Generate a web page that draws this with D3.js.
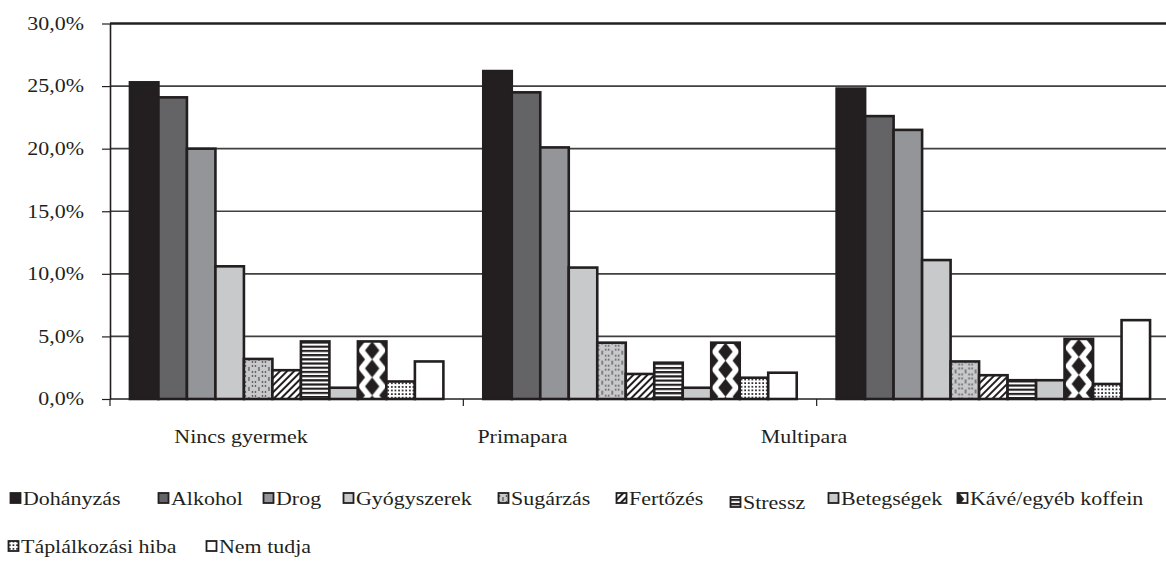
<!DOCTYPE html>
<html>
<head>
<meta charset="utf-8">
<script src="https://cdn.jsdelivr.net/npm/d3@7"></script>
<style>
  body { margin: 0; background: #fff; }
  text { font-family: "Liberation Serif", "Times New Roman", serif; fill: #231f20; }
</style>
</head>
<body>
<div id="chart"></div>
<script>
// data
const categories = ["Nincs gyermek", "Primapara", "Multipara"];
const seriesNames = ["Dohányzás", "Alkohol", "Drog", "Gyógyszerek", "Sugárzás", "Fertőzés",
  "Stressz", "Betegségek", "Kávé/egyéb koffein", "Táplálkozási hiba", "Nem tudja"];
const nincsGyermekValues = [25.3, 24.1, 20.0, 10.6, 3.2, 2.3, 4.6, 0.9, 4.6, 1.4, 3.0];
const primaparaValues    = [26.2, 24.5, 20.1, 10.5, 4.5, 2.0, 2.9, 0.9, 4.5, 1.7, 2.1];
const multiparaValues    = [24.8, 22.6, 21.5, 11.1, 3.0, 1.9, 1.5, 1.5, 4.8, 1.2, 6.3];
const yTicks = [0, 5, 10, 15, 20, 25, 30];

// styles
const seriesFills = ["#231f20", "#646366", "#939598", "#c8c9cb", "url(#pSug)", "url(#pFert)",
  "url(#pStr)", "#c8c9cb", "url(#pKave)", "url(#pTap)", "#ffffff"];
const ink = "#231f20";
const stretch = 1.22;   // text in the picture is wider than it is tall
const fontSize = 18;

// legend layout (marker x, row)
const legendLayout = [[10, 0], [158, 0], [263, 0], [343, 0], [498, 0], [616, 0], [730, 0], [828, 0], [957, 0],
  [8, 1], [206, 1]];
const legendRowY = [499, 547];

const width = 1166, height = 566;
const plot = { left: 110, right: 1170, top: 23.5, bottom: 399 };

const rows = categories.map((c, i) => ({
  cat: c,
  values: [nincsGyermekValues, primaparaValues, multiparaValues][i]
}));

const svg = d3.select("#chart").append("svg")
  .attr("width", width)
  .attr("height", height);

svg.append("rect").attr("width", width).attr("height", height).attr("fill", "#fff");

const x0 = d3.scaleBand()
  .domain(categories)
  .range([plot.left, plot.right]);

const x1 = d3.scaleBand()
  .domain(seriesNames)
  .range([0, x0.bandwidth()])
  .paddingOuter(0.7);

const y = d3.scaleLinear()
  .domain([0, 30])
  .range([plot.bottom, plot.top]);

const bw = x1.bandwidth();

// patterns
const defs = svg.append("defs");

const sug = defs.append("pattern").attr("id", "pSug")
  .attr("patternUnits", "userSpaceOnUse").attr("width", 10).attr("height", 10);
sug.append("rect").attr("width", 10).attr("height", 10).attr("fill", "#c8c9cb");
[[5, 1], [8.5, 3], [8.5, 7], [5, 9], [1.5, 7], [1.5, 3]].forEach(p => {
  sug.append("circle").attr("cx", p[0]).attr("cy", p[1]).attr("r", 0.8).attr("fill", ink);
});

const fert = defs.append("pattern").attr("id", "pFert")
  .attr("patternUnits", "userSpaceOnUse").attr("width", 5).attr("height", 5)
  .attr("patternTransform", "rotate(45)");
fert.append("rect").attr("width", 5).attr("height", 5).attr("fill", "#fff");
fert.append("rect").attr("width", 2).attr("height", 5).attr("fill", ink);

const str = defs.append("pattern").attr("id", "pStr")
  .attr("patternUnits", "userSpaceOnUse").attr("width", 10).attr("height", 4.2);
str.append("rect").attr("width", 10).attr("height", 4.2).attr("fill", "#fff");
str.append("rect").attr("width", 10).attr("height", 2.2).attr("fill", ink);

const kave = defs.append("pattern").attr("id", "pKave")
  .attr("patternUnits", "userSpaceOnUse").attr("width", bw).attr("height", 18);
kave.append("rect").attr("width", bw).attr("height", 18).attr("fill", "#fff");
const hw = 7.2, hh = 9;
[[bw / 2, 9], [0, 0], [bw, 0], [0, 18], [bw, 18]].forEach(c => {
  kave.append("path")
    .attr("d", `M${c[0] - hw},${c[1]}L${c[0]},${c[1] - hh}L${c[0] + hw},${c[1]}L${c[0]},${c[1] + hh}Z`)
    .attr("fill", ink);
});

const tap = defs.append("pattern").attr("id", "pTap")
  .attr("patternUnits", "userSpaceOnUse").attr("width", 3.6).attr("height", 3.6);
tap.append("rect").attr("width", 3.6).attr("height", 3.6).attr("fill", "#fff");
tap.append("rect").attr("x", 1).attr("y", 1).attr("width", 1.7).attr("height", 1.7).attr("fill", ink);

// gridlines
svg.append("g")
  .selectAll("line")
  .data(yTicks.filter(t => t > 0))
  .enter()
  .append("line")
    .attr("x1", plot.left)
    .attr("x2", plot.right)
    .attr("y1", d => y(d))
    .attr("y2", d => y(d))
    .attr("stroke", d => d === 30 ? ink : "#404040")
    .attr("stroke-width", d => d === 30 ? 2.4 : 1.7);

// bars (each in its own group so the pattern starts at the bar's top-left corner)
const groups = svg.append("g")
  .selectAll("g")
  .data(rows)
  .enter()
  .append("g")
    .attr("transform", d => `translate(${x0(d.cat)},0)`);

groups.selectAll("g")
  .data(d => d.values.map((v, i) => ({ name: seriesNames[i], value: v, i })))
  .enter()
  .append("g")
    .attr("transform", d => `translate(${x1(d.name)},${y(d.value)})`)
  .append("rect")
    .attr("x", 0)
    .attr("y", 0)
    .attr("width", bw)
    .attr("height", d => y(0) - y(d.value))
    .attr("fill", d => seriesFills[d.i])
    .attr("stroke", ink)
    .attr("stroke-width", 2.6);

// x axis baseline and category boundary ticks
svg.append("line")
  .attr("x1", plot.left).attr("x2", plot.right)
  .attr("y1", y(0)).attr("y2", y(0))
  .attr("stroke", ink).attr("stroke-width", 1.6);

svg.append("g")
  .selectAll("line")
  .data(categories)
  .enter()
  .append("line")
    .attr("x1", d => x0(d))
    .attr("x2", d => x0(d))
    .attr("y1", y(0))
    .attr("y2", y(0) + 7)
    .attr("stroke", ink)
    .attr("stroke-width", 1.2);

// y axis
const yAxis = svg.append("g")
  .attr("transform", `translate(${plot.left},0)`)
  .call(d3.axisLeft(y)
    .tickValues(yTicks)
    .tickSize(8)
    .tickSizeOuter(0)
    .tickPadding(18)
    .tickFormat(d => d.toFixed(1).replace(".", ",") + "%"));

yAxis.select(".domain").attr("stroke", ink).attr("stroke-width", 1.6);
yAxis.selectAll(".tick line").attr("stroke", ink).attr("stroke-width", 1.2);
yAxis.selectAll(".tick text")
  .attr("x", -26 / stretch)
  .attr("transform", `scale(${stretch},1)`)
  .style("font-size", fontSize + "px")
  .style("font-family", "Liberation Serif")
  .attr("fill", ink);

// category labels (placed where the picture has them, left of the band centres)
const labelScale = d3.scalePoint()
  .domain(categories)
  .range([241, 804]);

svg.append("g")
  .selectAll("text")
  .data(categories)
  .enter()
  .append("text")
    .attr("transform", d => `translate(${labelScale(d)},443) scale(${stretch},1)`)
    .attr("text-anchor", "middle")
    .style("font-size", fontSize + "px")
    .text(d => d);

// legend
const legend = svg.append("g")
  .selectAll("g")
  .data(seriesNames)
  .enter()
  .append("g")
    .attr("transform", (d, i) => `translate(${legendLayout[i][0]},${legendRowY[legendLayout[i][1]] + (d === "Stressz" ? 4 : 0)})`);

legend.append("rect")
  .attr("x", 0.5)
  .attr("y", -6)
  .attr("width", 10)
  .attr("height", 10)
  .attr("fill", (d, i) => seriesFills[i])
  .attr("stroke", ink)
  .attr("stroke-width", 1.8);

legend.append("text")
  .attr("transform", `translate(13,6) scale(${stretch},1)`)
  .style("font-size", fontSize + "px")
  .text(d => d);
</script>
</body>
</html>
